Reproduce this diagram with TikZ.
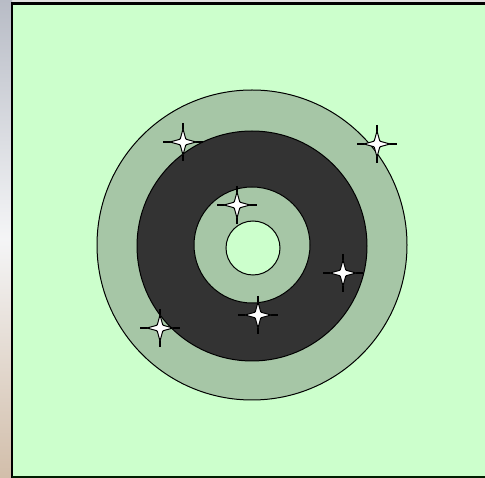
\documentclass[tikz,border=0pt]{standalone}
\definecolor{panelgreen}{RGB}{204,255,204}
\definecolor{ringgreen}{RGB}{166,198,166}
\definecolor{darkring}{RGB}{51,51,51}
\definecolor{stripgrey}{RGB}{184,188,198}
\definecolor{stripbeige}{RGB}{210,190,170}
\tikzset{
  x=1pt, y=-1pt,
  ringline/.style={draw=black, line width=1pt},
  pics/sparkle/.style={code={
    \draw[black, line width=1.6pt, line cap=butt] (-20,0) -- (20,0) (0,-19) -- (0,19);
    \draw[black, line width=1pt, fill=white, line join=round]
      (0,-13) -- (2.6,-3.6) -- (3.6,-2.6) -- (13,0) -- (3.6,2.6) -- (2.6,3.6)
      -- (0,13) -- (-2.6,3.6) -- (-3.6,2.6) -- (-13,0) -- (-3.6,-2.6) -- (-2.6,-3.6) -- cycle;
  }}
}
\begin{document}
\begin{tikzpicture}
\useasboundingbox (0,0) rectangle (485,478);
% backdrop
\fill[black!12] (0,0) rectangle (485,478);
\shade[top color=stripgrey, bottom color=stripbeige, middle color=white!85!stripgrey] (0,0) rectangle (12,478);
% panel
\fill[panelgreen] (12,3) rectangle (485,478);
\draw[black, line width=3pt] (12,3.5) -- (485,3.5);
\draw[black, line width=2pt] (12,2) -- (12,478);
\draw[black!70!green!40!black, line width=1.5pt] (12,477) -- (485,477);
% target rings
\fill[ringgreen, ringline] (252,245) circle (155);
\fill[darkring, ringline] (252,246) circle (115);
\fill[ringgreen, ringline] (252,245) circle (58);
\fill[panelgreen, ringline] (253,248) circle (27);
% sparkles
\pic at (183,142) {sparkle};
\pic at (377,144) {sparkle};
\pic at (237,205) {sparkle};
\pic at (343,273) {sparkle};
\pic at (258,315) {sparkle};
\pic at (160,328) {sparkle};
\end{tikzpicture}
\end{document}
